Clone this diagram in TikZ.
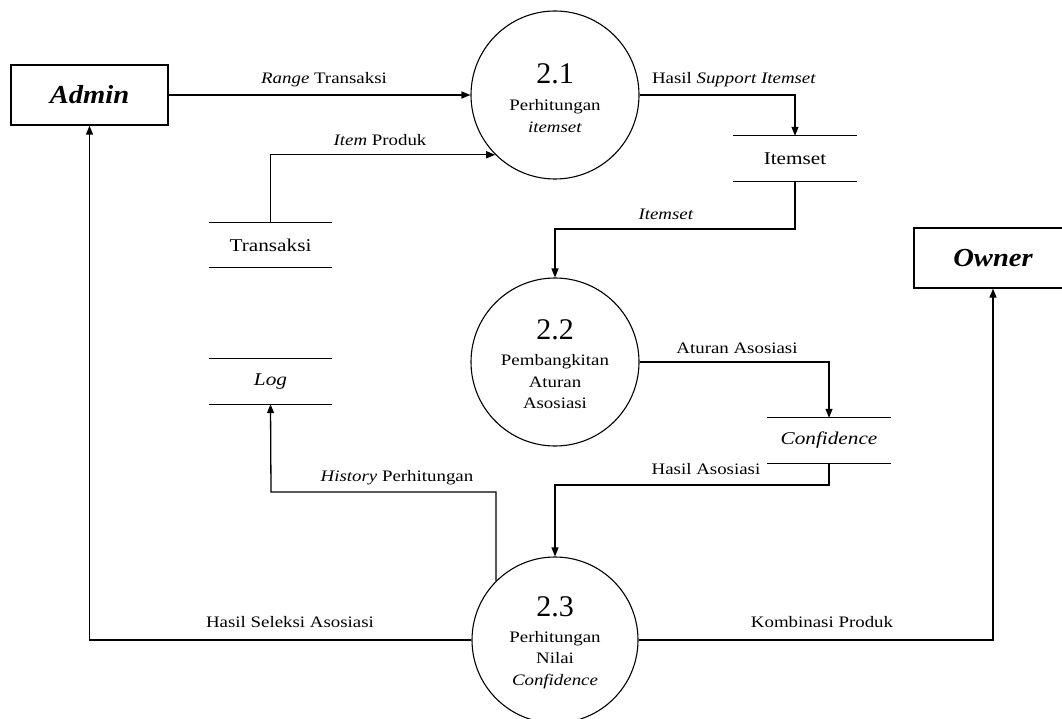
\documentclass[tikz,border=0pt]{standalone}
\usepackage{fontspec}
\setmainfont{Liberation Serif}[FakeStretch=1.18]
\newfontfamily\numfont{Liberation Serif}
\newfontfamily\entfont{Liberation Serif}[FakeStretch=1.1]
\usetikzlibrary{arrows.meta,calc}
\begin{document}
\begin{tikzpicture}[x=1pt,y=-1pt,
  entity/.style={draw, line width=1.3pt, minimum width=157pt, minimum height=60pt, inner sep=0pt,
    font=\entfont\fontsize{26}{30}\selectfont\bfseries\itshape},
  proc/.style={draw, circle, line width=1.1pt, minimum size=168pt, inner sep=0pt},
  store/.style={minimum width=123pt, minimum height=45pt, inner sep=0pt, font=\fontsize{18}{21}\selectfont},
  storeline/.style={line width=1.3pt},
  flow/.style={line width=1.3pt, -{Triangle[length=9pt,width=7pt]}},
  lbl/.style={font=\fontsize{16}{19}\selectfont, inner sep=0pt},
  num/.style={font=\numfont\fontsize{30}{34}\selectfont, inner sep=0pt},
  ptext/.style={font=\fontsize{16}{21.5}\selectfont, align=center, inner sep=0pt}]
\useasboundingbox (0,0) rectangle (1062,719);

% entities
\node[entity] (admin) at (89.5,95) {Admin};
\node[entity, minimum width=158pt] (owner) at (993,258) {Owner};

% processes
\node[proc] (p21) at (555,95) {};
\node[proc] (p22) at (555,362) {};
\node[proc, minimum size=166pt] (p23) at (555,640) {};
\node[num] (n21) at (555,74) {2.1};
\node[ptext] (t21) at (555,116) {Perhitungan\\\textit{itemset}};
\node[num] (n22) at (555,330) {2.2};
\node[ptext] (t22) at (555,382) {Pembangkitan\\Aturan\\Asosiasi};
\node[num] (n23) at (555,607) {2.3};
\node[ptext] (t23) at (555,660) {Perhitungan\\Nilai\\\textit{Confidence}};

% data stores
\node[store] (trans) at (270.5,245) {Transaksi};
\node[store] (itemset) at (795,158.5) {Itemset};
\node[store, minimum width=124pt] (conf) at (829,440.5) {\textit{Confidence}};
\node[store] (logs) at (270.5,381.5) {\textit{Log}};
\foreach \s in {trans,itemset,conf,logs}{
  \draw[storeline] (\s.north west) -- (\s.north east) (\s.south west) -- (\s.south east);
}

% bend points
\coordinate (k1) at (555,229);
\coordinate (k2) at (555,485);
\coordinate (k3) at (271,492);

% flows
\draw[flow] (admin.east) -- (p21.west);
\draw[flow] (trans.north) |- (p21.225);
\draw[flow] (p21.east) -| (itemset.north);
\draw[flow] (itemset.south) |- (k1) -- (p22.north);
\draw[flow] (p22.east) -| (conf.north);
\draw[flow] (conf.south) |- (k2) -- (p23.north);
\draw[flow] (p23.135) |- (k3) -- (logs.south);
\draw[flow] (p23.west) -| (admin.south);
\draw[flow] (p23.east) -| (owner.south);

% labels
\node[lbl] (l1) at (324,80) {\textit{Range} Transaksi};
\node[lbl] (l2) at (380,140) {\textit{Item} Produk};
\node[lbl] (l3) at (734,80) {Hasil \textit{Support Itemset}};
\node[lbl] (l4) at (666,214) {\textit{Itemset}};
\node[lbl] (l5) at (737,348) {Aturan Asosiasi};
\node[lbl] (l6) at (706,469) {Hasil Asosiasi};
\node[lbl] (l7) at (397,478) {\textit{History} Perhitungan};
\node[lbl] (l8) at (290,622) {Hasil Seleksi Asosiasi};
\node[lbl] (l9) at (822,622) {Kombinasi Produk};
\end{tikzpicture}
\end{document}
